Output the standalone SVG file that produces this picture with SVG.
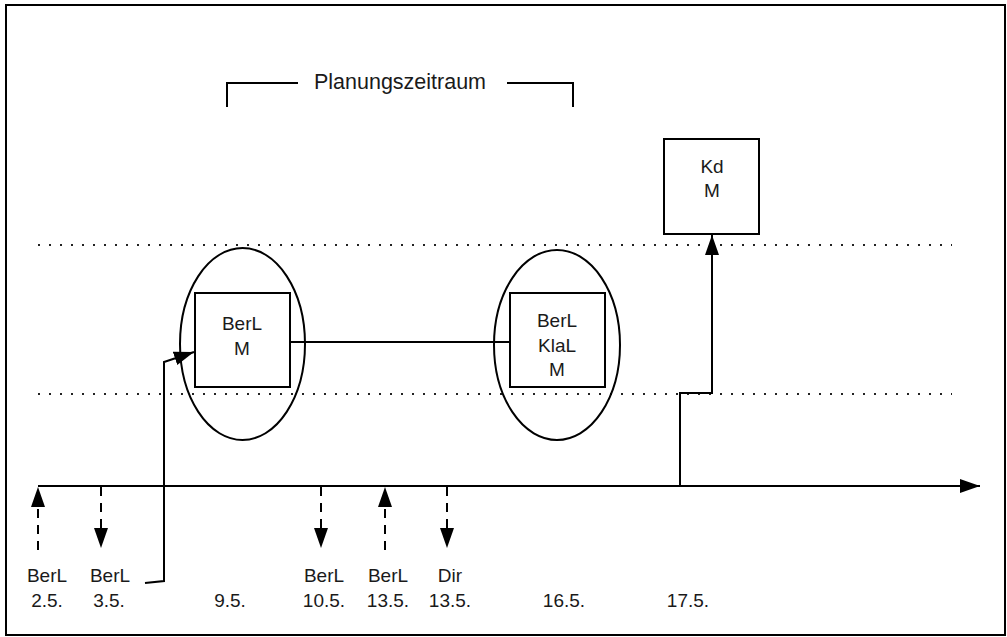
<svg xmlns="http://www.w3.org/2000/svg" width="1007" height="637" viewBox="0 0 1007 637">
<defs>
<marker id="ah" viewBox="0 0 20 14" refX="20" refY="7" markerWidth="20" markerHeight="14" markerUnits="userSpaceOnUse" orient="auto">
<path d="M0,0 L20,7 L0,14 Z" fill="#000"/>
</marker>
<style>
text{font-family:"Liberation Sans",Arial,sans-serif;font-size:19px;fill:#1a1a1a;text-anchor:middle}
.ln{stroke:#000;stroke-width:2;fill:none}
.dash{stroke:#000;stroke-width:2;fill:none;stroke-dasharray:9 7}
.dot{stroke:#222;stroke-width:2;fill:none;stroke-dasharray:2 9}
.box{stroke:#000;stroke-width:2;fill:#fff}
.ell{stroke:#000;stroke-width:2;fill:none}
</style>
</defs>
<rect x="6" y="5" width="999" height="630" fill="#fff" stroke="#000" stroke-width="2"/>
<g id="bracket">
<path class="ln" d="M227,107 L227,83 L298,83"/>
<path class="ln" d="M507,83 L573,83 L573,107"/>
<text x="400" y="89" style="font-size:21.5px">Planungszeitraum</text>
</g>
<g id="dotted-lines">
<line class="dot" x1="38" y1="245" x2="952" y2="245"/>
<line class="dot" x1="38" y1="394" x2="952" y2="394"/>
</g>
<g id="ellipse1"><ellipse class="ell" cx="242.5" cy="344" rx="62.5" ry="96"/></g>
<g id="ellipse2"><ellipse class="ell" cx="557" cy="345" rx="63" ry="95"/></g>
<g id="connectors">
<line class="ln" x1="38" y1="486" x2="980" y2="486" marker-end="url(#ah)"/>
<line class="ln" x1="290" y1="342" x2="510" y2="342"/>
<line class="dash" x1="38" y1="550" x2="38" y2="487" marker-end="url(#ah)"/>
<line class="dash" x1="101" y1="487" x2="101" y2="548" marker-end="url(#ah)"/>
<line class="dash" x1="321" y1="487" x2="321" y2="548" marker-end="url(#ah)"/>
<line class="dash" x1="385" y1="550" x2="385" y2="487" marker-end="url(#ah)"/>
<line class="dash" x1="447" y1="487" x2="447" y2="548" marker-end="url(#ah)"/>
<path class="ln" d="M145,583 L164,581 L164,362 L194,352" marker-end="url(#ah)"/>
<path class="ln" d="M680,486 L680,393 L712,393 L712,235" marker-end="url(#ah)"/>
</g>
<g id="box1">
<rect class="box" x="195" y="293" width="95" height="94"/>
<text x="242" y="330">BerL</text>
<text x="242" y="355">M</text>
</g>
<g id="box2">
<rect class="box" x="510" y="293" width="95" height="94"/>
<text x="557" y="327">BerL</text>
<text x="557" y="352">KlaL</text>
<text x="557" y="376">M</text>
</g>
<g id="box3">
<rect class="box" x="664" y="139" width="95" height="95"/>
<text x="712" y="173">Kd</text>
<text x="712" y="197">M</text>
</g>
<g id="labels">
<text x="47" y="582">BerL</text><text x="47" y="607">2.5.</text>
<text x="110" y="582">BerL</text><text x="109" y="607">3.5.</text>
<text x="230" y="607">9.5.</text>
<text x="324" y="582">BerL</text><text x="324" y="607">10.5.</text>
<text x="388" y="582">BerL</text><text x="388" y="607">13.5.</text>
<text x="450" y="582">Dir</text><text x="450" y="607">13.5.</text>
<text x="564" y="607">16.5.</text>
<text x="688" y="607">17.5.</text>
</g>
</svg>
